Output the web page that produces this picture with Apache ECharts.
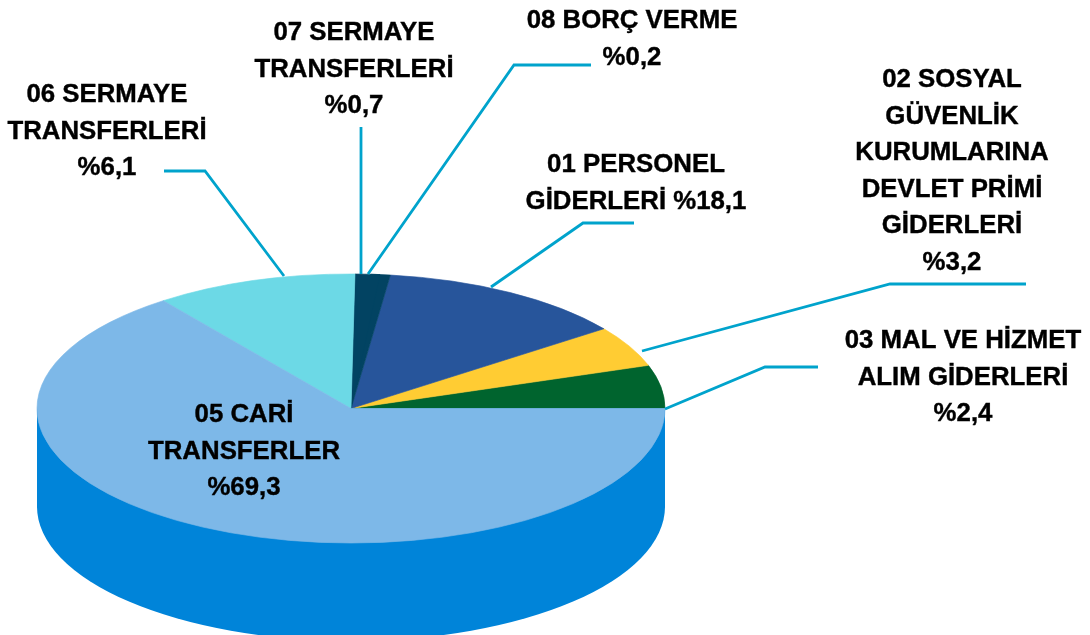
<!DOCTYPE html>
<html>
<head>
<meta charset="utf-8">
<style>html,body{margin:0;padding:0;background:#fff}#c{width:1090px;height:635px}</style>
<script src="https://cdn.jsdelivr.net/npm/echarts@6/dist/echarts.min.js"></script>
</head>
<body>
<div id="c"></div>
<script>
// Slices, counter-clockwise from the 3 o'clock position
const categories = ['03 MAL VE HİZMET ALIM GİDERLERİ','02 SOSYAL GÜVENLİK KURUMLARINA DEVLET PRİMİ GİDERLERİ','01 PERSONEL GİDERLERİ','08 BORÇ VERME','07 SERMAYE TRANSFERLERİ','06 SERMAYE TRANSFERLERİ','05 CARİ TRANSFERLER'];
// Slice shares as they appear in the drawn (rotated) pie
const sliceShares = [5.2, 4.9, 12.9, 1.0, 0.8, 10.4, 64.8];
const printedPercents = ['%2,4','%3,2','%18,1','%0,2','%0,7','%6,1','%69,3'];
const sliceColors = ['#00642E','#FFCC33','#27559B','#024362','#024362','#6CD9E6','#7DB8E8'];
const wallColor = '#0084D9';
const leaderColor = '#00A3CC';

// Label wording split in lines, same order as categories
const labelLines = [
  ['03 MAL VE HİZMET','ALIM GİDERLERİ','%2,4'],
  ['02 SOSYAL','GÜVENLİK','KURUMLARINA','DEVLET PRİMİ','GİDERLERİ','%3,2'],
  ['01 PERSONEL','GİDERLERİ %18,1'],
  ['08 BORÇ VERME','%0,2'],
  ['07 SERMAYE','TRANSFERLERİ','%0,7'],
  ['06 SERMAYE','TRANSFERLERİ','%6,1'],
  ['05 CARİ','TRANSFERLER','%69,3']
];
const labelCenters = [[963,377.5],[952,171.5],[636,183.5],[632,39.5],[354,69.5],[107,131.5],[244,451.5]];
const leaderPaths = [
  [[818,367],[765,367],[665,409]],
  [[1026,284],[890,284],[642,351]],
  [[634,223],[583,223],[491,287]],
  [[591,65],[514,65],[368,274]],
  [[361,127],[361,274]],
  [[164,171],[205,171],[284,276]]
];

const cx = 351, cy = 408.5, rx = 314, ry = 134.5, depth = 98;
const total = sliceShares.reduce((a,b)=>a+b,0);
const starts = [];
sliceShares.reduce((acc,v,i)=>{starts[i]=acc;return acc+v;},0);

function renderSlice(params, api){
  const i = params.dataIndex;
  const v = api.value(0);
  let a0 = starts[i]/total*Math.PI*2;
  const a1 = (starts[i]+v)/total*Math.PI*2;
  // same-coloured neighbours overlap so that no seam shows between them
  if (i > 0 && sliceColors[i-1] === sliceColors[i]) a0 -= 0.03;
  const top = {
    type:'sector', x:cx, y:cy, scaleY:ry/rx,
    shape:{cx:0,cy:0,r0:0,r:rx,startAngle:-a1,endAngle:-a0,clockwise:true},
    style:{fill:sliceColors[i],stroke:sliceColors[i],lineWidth:0.9}
  };
  if (a1 <= Math.PI) return top;
  // slice facing the viewer carries the visible side wall
  return {type:'group',children:[
    {type:'rect',shape:{x:cx-rx,y:cy,width:rx*2,height:depth+1},style:{fill:wallColor}},
    {type:'sector',x:cx,y:cy+depth,scaleY:ry/rx,
      shape:{cx:0,cy:0,r0:0,r:rx,startAngle:0,endAngle:Math.PI,clockwise:true},
      style:{fill:wallColor}},
    top
  ]};
}

const graphics = [];
leaderPaths.forEach(p=>graphics.push({type:'polyline',silent:true,z:5,shape:{points:p},
  style:{fill:null,stroke:leaderColor,lineWidth:2.8}}));
labelLines.forEach((lines,i)=>graphics.push({type:'text',silent:true,z:6,
  x:labelCenters[i][0],y:labelCenters[i][1],
  style:{text:lines.join('\n'),align:'center',verticalAlign:'middle',lineHeight:36.5,
    font:'bold 25.8px "Liberation Sans", Arial, sans-serif',fill:'#000',stroke:'#000',lineWidth:0.4}}));

const chart = echarts.init(document.getElementById('c'),null,{renderer:'canvas'});
chart.setOption({
  animation:false,
  backgroundColor:'#fff',
  tooltip:{show:false},
  series:[{type:'custom',coordinateSystem:'none',renderItem:renderSlice,silent:true,
    data:sliceShares.map((v,i)=>({name:categories[i],value:[v]}))}],
  graphic:{elements:graphics}
});
</script>
</body>
</html>
